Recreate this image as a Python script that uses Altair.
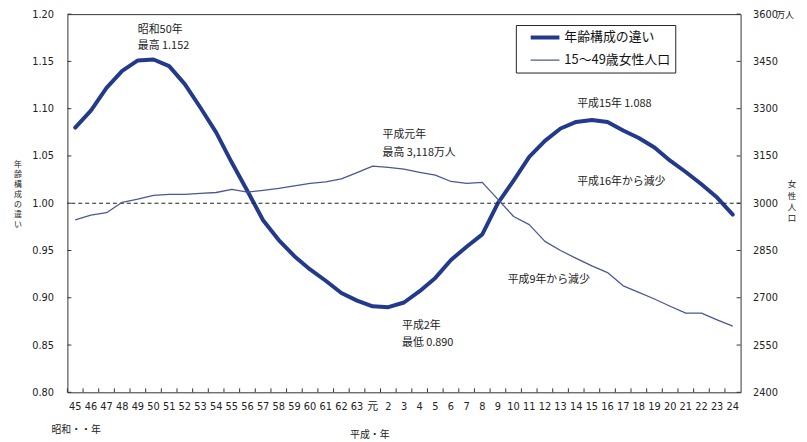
import altair as alt
import pandas as pd

# ---------------- data ----------------
cats = ["45", "46", "47", "48", "49", "50", "51", "52", "53", "54", "55", "56",
        "57", "58", "59", "60", "61", "62", "63", "元", "2", "3", "4", "5", "6",
        "7", "8", "9", "10", "11", "12", "13", "14", "15", "16", "17", "18", "19",
        "20", "21", "22", "23", "24"]

ratio = [1.080, 1.098, 1.122, 1.140, 1.151, 1.152, 1.145, 1.126, 1.101, 1.075,
         1.043, 1.013, 0.982, 0.961, 0.944, 0.930, 0.918, 0.905, 0.897, 0.891,
         0.890, 0.895, 0.907, 0.921, 0.940, 0.954, 0.967, 1.000, 1.024, 1.049,
         1.066, 1.079, 1.086, 1.088, 1.086, 1.077, 1.069, 1.059, 1.045, 1.033,
         1.020, 1.006, 0.988]

women = [2947, 2962, 2970, 3003, 3013, 3025, 3028, 3028, 3031, 3034, 3044, 3035,
         3041, 3047, 3055, 3063, 3068, 3077, 3097, 3118, 3114, 3108, 3098, 3089,
         3069, 3063, 3066, 3012, 2958, 2932, 2879, 2850, 2825, 2801, 2780, 2738,
         2717, 2696, 2673, 2651, 2651, 2630, 2610]

left_ticks = [0.80, 0.85, 0.90, 0.95, 1.00, 1.05, 1.10, 1.15, 1.20]
right_ticks = [2400, 2550, 2700, 2850, 3000, 3150, 3300, 3450, 3600]

series = ["年齢構成の違い", "15～49歳女性人口"]
left_title = "年齢構成の違い"
right_title = "女性人口"
right_unit = "万人"

# annotations: text, category, value, dx
ann_left = [
    ("昭和50年", "49", 1.1837, 0),
    ("最高  1.152", "49", 1.1659, 0),
    ("平成15年  1.088", "14", 1.1054, 1),
    ("平成16年から減少", "14", 1.0226, 1),
    ("平成2年", "3", 0.8703, -2),
    ("最低  0.890", "3", 0.8524, -2),
    ("昭和・・年", "45", 0.760, -24),
]
ann_right = [
    ("平成元年", "元", 3215, 10),
    ("最高  3,118万人", "元", 3158, 10),
    ("平成9年から減少", "10", 2756, -6),
]

# ---------------- style ----------------
FONT_JP = "'Noto Sans CJK JP', sans-serif"
FONT_NUM = "'Liberation Sans Narrow', 'DejaVu Sans Condensed', 'Noto Sans CJK JP', sans-serif"
C_THICK = "#233a8c"
C_THIN = "#4a5890"
W, H = 680, 382

df_ratio = pd.DataFrame({"cat": cats, "v": ratio, "s": series[0]})
df_women = pd.DataFrame({"cat": cats, "v": women, "s": series[1]})
df_cat = pd.DataFrame({"cat": cats})
df_lt = pd.DataFrame({"v": left_ticks})
df_rt = pd.DataFrame({"v": right_ticks})

xscale = alt.Scale(type="band", domain=cats, paddingInner=0, paddingOuter=0)
xaxis = alt.Axis(title="平成・年", labelAngle=0, ticks=False, domain=False, grid=False,
                 labelPadding=8, labelFont=FONT_NUM, labelFontSize=11, labelColor="#222",
                 titleFont=FONT_JP, titleFontSize=10, titleFontWeight="normal",
                 titleColor="#222", titleX=305, titleY=43, titleBaseline="middle",
                 titleAlign="center")


def X(**kw):
    return alt.X("cat:N", scale=xscale, axis=xaxis, sort=cats, **kw)


lscale = alt.Scale(domain=[0.8, 1.2], nice=False, zero=False)
laxis = alt.Axis(orient="left", values=left_ticks, format=".2f", ticks=False, domain=False,
                 grid=False, labelPadding=14, labelFont=FONT_NUM, labelFontSize=11,
                 labelColor="#222", title=None)

rscale = alt.Scale(domain=[2400, 3600], nice=False, zero=False)
raxis = alt.Axis(orient="right", values=right_ticks, format="d", ticks=False, domain=False,
                 grid=False, labelPadding=12, labelFont=FONT_NUM, labelFontSize=11,
                 labelColor="#222", title=None)


def YL(f="v"):
    return alt.Y(f, type="quantitative", scale=lscale, axis=laxis)


def YR(f="v"):
    return alt.Y(f, type="quantitative", scale=rscale, axis=raxis)


legend = alt.Legend(title=None, orient="none", legendX=453, legendY=11, strokeColor="#222",
                    fillColor="white", padding=5, symbolType="stroke", symbolSize=841,
                    symbolOffset=8, clipHeight=15,
                    labelFont=FONT_JP, labelFontSize=13, labelColor="#111",
                    rowPadding=8, labelOffset=3)
color = alt.Color("s:N", scale=alt.Scale(domain=series, range=[C_THICK, C_THIN]), legend=legend)
swidth = alt.StrokeWidth("s:N", scale=alt.Scale(domain=series, range=[4, 1.3]), legend=legend)

# ---------------- left group ----------------
thick = alt.Chart(df_ratio).mark_line(strokeJoin="round", strokeCap="round").encode(
    x=X(), y=YL(), color=color, strokeWidth=swidth)
dash = alt.Chart(pd.DataFrame({"v": [1.0]})).mark_rule(
    color="#222", strokeDash=[4, 3], strokeWidth=1.2).encode(y=YL())
xticks = alt.Chart(df_cat).mark_rule(color="#333").encode(
    x=X(bandPosition=0), y=alt.value(H), y2=alt.value(H - 4))
lticks = alt.Chart(df_lt).mark_rule(color="#333").encode(
    y=YL(), x=alt.value(0), x2=alt.value(4))
ltitle = alt.Chart(pd.DataFrame({"t": ["\n".join(left_title)]})).mark_text(
    align="center", baseline="top", lineBreak="\n", lineHeight=10.1,
    font=FONT_JP, fontSize=8, color="#222"
).encode(x=alt.value(-50), y=alt.value(148), text="t:N")

left_layers = [thick, dash, xticks, lticks, ltitle]
for t, c, v, dx in ann_left:
    fs = 10 if t.startswith("昭和・") else 11
    left_layers.append(
        alt.Chart(pd.DataFrame({"t": [t], "cat": [c], "v": [v]})).mark_text(
            align="left", baseline="middle", font=FONT_JP, fontSize=fs, color="#222", dx=dx
        ).encode(x=X(), y=YL(), text="t:N"))

# ---------------- right group ----------------
thin = alt.Chart(df_women).mark_line(strokeJoin="round").encode(
    x=X(), y=YR(), color=color, strokeWidth=swidth)
rticks = alt.Chart(df_rt).mark_rule(color="#333").encode(
    y=YR(), x=alt.value(W), x2=alt.value(W - 4))
unit = alt.Chart(pd.DataFrame({"t": [right_unit], "v": [3609]})).mark_text(
    align="left", baseline="top", font=FONT_JP, fontSize=9, color="#222"
).encode(x=alt.value(716), y=YR(), text="t:N")
rtitle = alt.Chart(pd.DataFrame({"t": ["\n".join(right_title)]})).mark_text(
    align="center", baseline="top", lineBreak="\n", lineHeight=11.4,
    font=FONT_JP, fontSize=8.5, color="#222"
).encode(x=alt.value(732), y=alt.value(168), text="t:N")

right_layers = [thin, rticks, unit, rtitle]
for t, c, v, dx in ann_right:
    right_layers.append(
        alt.Chart(pd.DataFrame({"t": [t], "cat": [c], "v": [v]})).mark_text(
            align="left", baseline="middle", font=FONT_JP, fontSize=11, color="#222", dx=dx
        ).encode(x=X(), y=YR(), text="t:N"))

left = alt.layer(*left_layers)
right = alt.layer(*right_layers)

chart = alt.layer(left, right).resolve_scale(y="independent").properties(
    width=W, height=H,
    padding={"left": 60, "top": 4, "right": 59, "bottom": 48},
    autosize=alt.AutoSizeParams(type="none"),
    background="white",
).configure_view(stroke="#333", strokeWidth=1)

chart.save("out.html", embed_options={"renderer": "svg", "actions": False})
